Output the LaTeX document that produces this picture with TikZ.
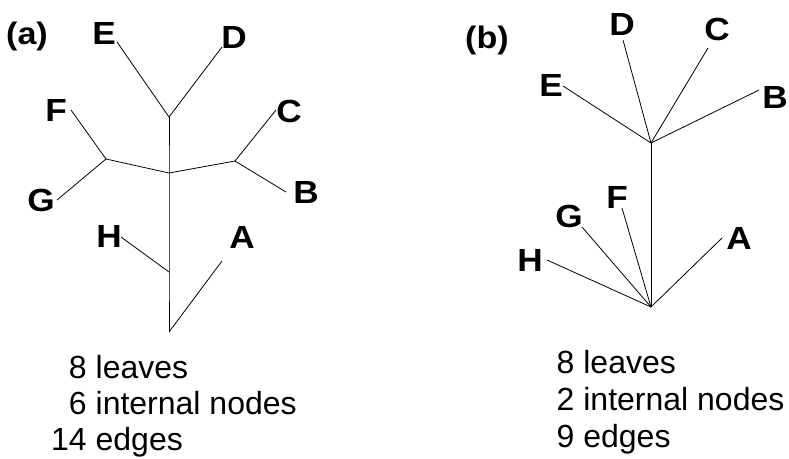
\documentclass[tikz,border=0pt]{standalone}
\usepackage{fontspec}
\setmainfont{Liberation Sans}
\newfontfamily\lblfont[FakeStretch=1.1]{Liberation Sans Bold}
\begin{document}
\begin{tikzpicture}[x=1pt,y=-1pt,
  edge/.style={line width=0.8pt,black},
  leaf/.style={inner sep=0pt,font=\lblfont\fontsize{32}{37}\selectfont},
  panel/.style={inner sep=0pt,font=\lblfont\fontsize{31}{36}\selectfont},
  stat/.style={inner sep=0pt,anchor=base west,font=\fontsize{32}{37}\selectfont}]
\useasboundingbox (0,0) rectangle (789,458);

% ---------- tree (a): fully resolved ----------
\node[panel] (pa) at (27,36) {(a)};
\coordinate (aroot) at (169,332);
\coordinate (ah)    at (169,272);
\coordinate (amid)  at (169,173);
\coordinate (atop)  at (169,117);
\coordinate (aleft) at (106,159);
\coordinate (aright) at (235,161);
\coordinate (aA) at (222,261);
\coordinate (aB) at (286,192);
\coordinate (aC) at (276,110);
\coordinate (aD) at (222,47);
\coordinate (aE) at (117,42);
\coordinate (aF) at (71,110);
\coordinate (aG) at (57,200);
\coordinate (aH) at (121,237);

\draw[edge] (aroot) -- (ah) -- (amid) -- (atop);
\draw[edge] (aroot) -- (aA);
\draw[edge] (ah) -- (aH);
\draw[edge] (amid) -- (aleft);
\draw[edge] (amid) -- (aright);
\draw[edge] (aleft) -- (aF);
\draw[edge] (aleft) -- (aG);
\draw[edge] (aright) -- (aC);
\draw[edge] (aright) -- (aB);
\draw[edge] (atop) -- (aE);
\draw[edge] (atop) -- (aD);

\node[leaf] (laE) at (104,33) {E};
\node[leaf] (laD) at (234,37) {D};
\node[leaf] (laF) at (56,110) {F};
\node[leaf] (laC) at (289,111) {C};
\node[leaf] (laG) at (41,200) {G};
\node[leaf] (laB) at (306,192) {B};
\node[leaf] (laH) at (109,236) {H};
\node[leaf] (laA) at (242,237) {A};

\node[stat] (sa1) at (51,378) {\phantom{1}8 leaves};
\node[stat] (sa2) at (51,414) {\phantom{1}6 internal nodes};
\node[stat] (sa3) at (51,450) {14 edges};

% ---------- tree (b): two multifurcating nodes ----------
\node[panel] (pb) at (487,40) {(b)};
\coordinate (broot) at (651,307);
\coordinate (btop)  at (651,143);
\coordinate (bA) at (722,238);
\coordinate (bB) at (759,90);
\coordinate (bC) at (708,48);
\coordinate (bD) at (623,40);
\coordinate (bE) at (563,86);
\coordinate (bF) at (622,208);
\coordinate (bG) at (582,227);
\coordinate (bH) at (547,260);

\draw[edge] (broot) -- (btop);
\foreach \t in {bE,bD,bC,bB} \draw[edge] (btop) -- (\t);
\foreach \t in {bH,bG,bF,bA} \draw[edge] (broot) -- (\t);

\node[leaf] (lbE) at (551,85) {E};
\node[leaf] (lbD) at (622,24) {D};
\node[leaf] (lbC) at (717,29) {C};
\node[leaf] (lbB) at (775,97) {B};
\node[leaf] (lbF) at (617,197) {F};
\node[leaf] (lbG) at (569,216) {G};
\node[leaf] (lbH) at (530,260) {H};
\node[leaf] (lbA) at (739,238) {A};

\node[stat] (sb1) at (556.5,373) {8 leaves};
\node[stat] (sb2) at (556.5,410) {2 internal nodes};
\node[stat] (sb3) at (556.5,447) {9 edges};
\end{tikzpicture}
\end{document}
